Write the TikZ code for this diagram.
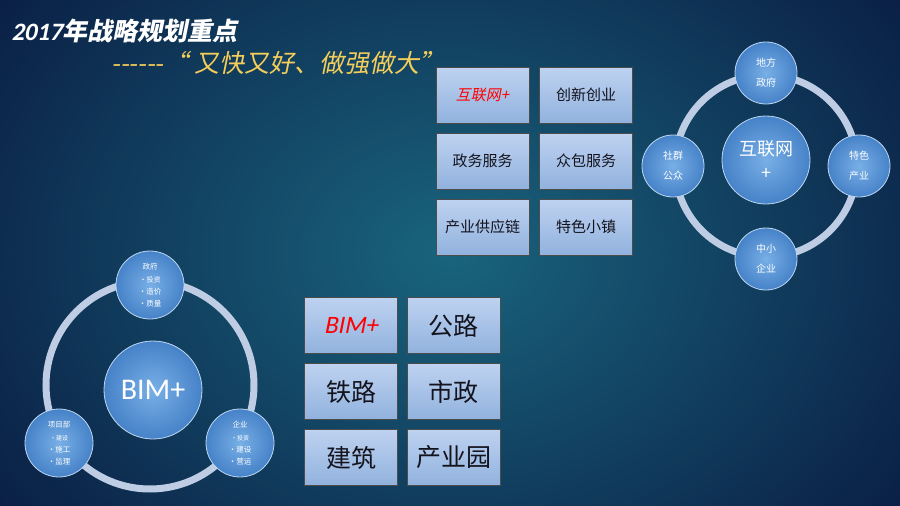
\documentclass[tikz,border=0pt]{standalone}
\usepackage{fontspec}
\setmainfont{Noto Sans CJK SC}
\newfontfamily\cjk{Noto Sans CJK SC}
\newfontfamily\cjkit[FakeSlant=0.2]{Noto Sans CJK SC}
\newfontfamily\latit[FakeSlant=0.2]{Carlito}
\newfontfamily\lat{Carlito}
\begin{document}
\begin{tikzpicture}[x=1pt,y=-1pt,
  box/.style={draw=black!70,line width=0.5pt,top color=boxA,bottom color=boxB,minimum width=93pt,minimum height=56pt,inner sep=0pt,text={rgb,255:red,20;green,20;blue,30}},
  ball/.style={circle,inner sep=0pt,inner color=ballA,outer color=ballB,draw={rgb,255:red,190;green,215;blue,240},line width=0.8pt,text=white,align=center},
  ring/.style={draw={rgb,255:red,190;green,205;blue,228},line width=7pt}]
\definecolor{bgA}{RGB}{25,100,125}
\definecolor{bgB}{RGB}{8,20,60}
\definecolor{gold}{RGB}{245,205,90}
\definecolor{boxA}{RGB}{190,210,240}
\definecolor{boxB}{RGB}{145,178,222}
\definecolor{ballA}{RGB}{120,175,230}
\definecolor{ballB}{RGB}{70,130,200}
\useasboundingbox (0,0) rectangle (900,506);
\shade[inner color=bgA,outer color=bgB] (-200,-250) rectangle (1100,756);
\node[anchor=west,text=white,font=\latit\bfseries\fontsize{25}{27}\selectfont] (t1) at (8,31) {2017\cjkit 年战略规划重点};
\node[anchor=west,text=gold,font=\cjkit\fontsize{25}{27}\selectfont] (t2) at (108,63) {------“ 又快又好、做强做大”};
% top boxes
\begin{scope}[font=\cjk\fontsize{15}{17}\selectfont]
\node[box] (a1) at (482.5,95) {\textcolor{red}{\cjkit 互联网+}};
\node[box] (a2) at (586,95) {创新创业};
\node[box] (a3) at (482.5,161) {政务服务};
\node[box] (a4) at (586,161) {众包服务};
\node[box] (a5) at (482.5,227) {产业供应链};
\node[box] (a6) at (586,227) {特色小镇};
\end{scope}
\begin{scope}[font=\cjk\fontsize{25}{27}\selectfont]
\node[box] (b1) at (351,325.5) {\textcolor{red}{\latit BIM+}};
\node[box] (b2) at (453.5,325.5) {公路};
\node[box] (b3) at (351,391.5) {铁路};
\node[box] (b4) at (453.5,391.5) {市政};
\node[box] (b5) at (351,457.5) {建筑};
\node[box] (b6) at (453.5,457.5) {产业园};
\end{scope}
% right ring
\draw[ring] (766,166) circle (91);
\node[ball,minimum size=88pt,font=\cjk\fontsize{18}{24}\selectfont] (r0) at (766,160) {互联网\\+};
\begin{scope}[font=\cjk\fontsize{10}{20}\selectfont]
\node[ball,minimum size=62pt] (r1) at (766,73) {地方\\政府};
\node[ball,minimum size=62pt] (r2) at (673,166) {社群\\公众};
\node[ball,minimum size=62pt] (r3) at (859,166) {特色\\产业};
\node[ball,minimum size=62pt] (r4) at (766,259) {中小\\企业};
\end{scope}
% left ring
\draw[ring] (150,385) circle (104);
\node[ball,minimum size=98pt,font=\lat\fontsize{30}{32}\selectfont] (l0) at (153,390) {BIM+};
\begin{scope}[font=\cjk\fontsize{7.5}{12}\selectfont]
\node[ball,minimum size=68pt] (l1) at (150,285) {政府\\[1pt]\fontsize{7}{13}\selectfont •投资\\•造价\\•质量};
\node[ball,minimum size=68pt] (l2) at (59,443) {项目部\\[1pt]\fontsize{6}{10}\selectfont •建设\\•施工\\•监理};
\node[ball,minimum size=68pt] (l3) at (240,443) {企业\\[1pt]\fontsize{6}{10}\selectfont •投资\\•建设\\•营运};
\end{scope}
\end{tikzpicture}
\end{document}
